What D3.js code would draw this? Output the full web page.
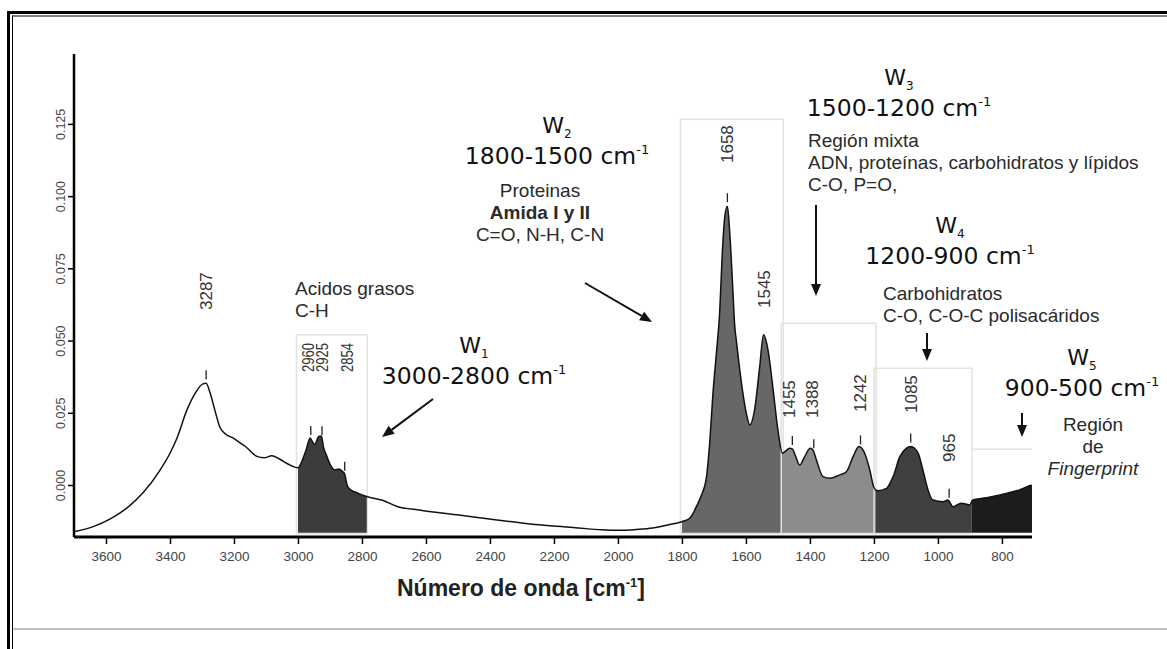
<!DOCTYPE html>
<html lang="es">
<head>
<meta charset="utf-8">
<title>Espectro FTIR</title>
<style>
  body { margin: 0; background: #fff; }
  svg { font-family: 'Liberation Sans', Arial, sans-serif; }
</style>
<script src="https://cdn.jsdelivr.net/npm/d3@7"></script>
</head>
<body>
<script>
var W = 1167, H = 649;

// spectrum (wavenumber cm-1, absorbance)
var wavenumber = [3700, 3640, 3588, 3535, 3485, 3432, 3400, 3378, 3347, 3320, 3297, 3287, 3275, 3260, 3244, 3225, 3203, 3180, 3166, 3130, 3106, 3082, 3058, 3030,
    3000, 2985, 2975, 2962, 2955, 2948, 2935, 2927, 2920, 2910, 2900, 2885, 2872, 2862, 2855, 2845, 2830, 2813, 2785,
    2736, 2688, 2617, 2497, 2378, 2259, 2140, 2100, 2050, 2000, 1950, 1900, 1848,
    1800, 1776, 1765, 1755, 1739, 1723, 1713, 1703, 1692, 1682, 1674, 1666, 1658, 1651, 1642, 1635, 1630, 1614, 1599, 1588, 1573, 1557, 1545, 1531, 1515, 1500,
    1486, 1479, 1463, 1455, 1445, 1432, 1418, 1399, 1390, 1380, 1359, 1338, 1307, 1286, 1265, 1247, 1229, 1213, 1201,
    1195, 1187, 1161, 1140, 1119, 1099, 1085, 1062, 1047, 1031, 1016, 984, 969, 953, 927, 901,
    891, 860, 828, 786, 745, 708];
var absorbance = [-0.0162, -0.0144, -0.0118, -0.0080, -0.0028, 0.0050, 0.0110, 0.0163, 0.0260, 0.0320, 0.0350, 0.0352, 0.0320, 0.0260, 0.0200, 0.0175, 0.0163, 0.0145, 0.0135, 0.0100, 0.0094, 0.0101, 0.0090, 0.0072,
    0.0060, 0.0090, 0.0120, 0.0163, 0.0150, 0.0140, 0.0168, 0.0170, 0.0130, 0.0100, 0.0072, 0.0052, 0.0055, 0.0048, 0.0040, -0.0005, -0.0020, -0.0028, -0.0040,
    -0.0053, -0.0075, -0.0087, -0.0104, -0.0121, -0.0137, -0.0147, -0.0151, -0.0155, -0.0157, -0.0155, -0.0150, -0.0139,
    -0.0127, -0.0115, -0.0098, -0.0075, -0.0035, 0.0030, 0.0150, 0.0318, 0.0460, 0.0600, 0.0800, 0.0930, 0.0965, 0.0880, 0.0700, 0.0550, 0.0500, 0.0353, 0.0249, 0.0208, 0.0260, 0.0410, 0.0520, 0.0467, 0.0329, 0.0190,
    0.0110, 0.0115, 0.0127, 0.0125, 0.0100, 0.0069, 0.0095, 0.0127, 0.0120, 0.0087, 0.0029, 0.0023, 0.0035, 0.0046, 0.0098, 0.0133, 0.0110, 0.0052, -0.0006,
    -0.0017, -0.0020, -0.0012, 0.0029, 0.0098, 0.0127, 0.0133, 0.0110, 0.0052, -0.0017, -0.0052, -0.0058, -0.0052, -0.0075, -0.0063, -0.0069,
    -0.0052, -0.0046, -0.0040, -0.0029, -0.0017, 0.0000];

var regionNames = ["1", "2", "3", "4", "5"];
var regionStart = [3000, 1800, 1485, 1195, 895];
var regionEnd = [2785, 1485, 1195, 895, 706];
var regionTop = [0.052, 0.1266, 0.056, 0.0404, 0.0124];
var regionRange = ["3000-2800", "1800-1500", "1500-1200", "1200-900", "900-500"];

var peaks = [3287, 2960, 2925, 2854, 1658, 1545, 1455, 1388, 1242, 1085, 965];

var xTicks = [3600, 3400, 3200, 3000, 2800, 2600, 2400, 2200, 2000, 1800, 1600, 1400, 1200, 1000, 800];
var yTicks = [0, 0.025, 0.05, 0.075, 0.1, 0.125];

var data = wavenumber.map(function (v, i) { return [v, absorbance[i]]; });

var svg = d3.select("body").append("svg")
    .attr("width", W)
    .attr("height", H);

var x = d3.scaleLinear().domain([3700, 706]).range([74, 1032]);
var y = d3.scaleLinear().domain([-0.018, 0.1492]).range([537, 54]);

function interp(v) {
    for (var i = 0; i < data.length - 1; i++) {
        if (v <= data[i][0] && v >= data[i + 1][0]) {
            var t = (data[i][0] - v) / (data[i][0] - data[i + 1][0]);
            return data[i][1] + t * (data[i + 1][1] - data[i][1]);
        }
    }
    return data[data.length - 1][1];
}

/* FRAME */
svg.append("line").attr("x1", 7).attr("x2", W).attr("y1", 12.5).attr("y2", 12.5)
    .attr("stroke", "#000").attr("stroke-width", 3);
svg.append("line").attr("x1", 12).attr("x2", W).attr("y1", 16).attr("y2", 16)
    .attr("stroke", "#000").attr("stroke-width", 1);
svg.append("line").attr("x1", 8.5).attr("x2", 8.5).attr("y1", 11).attr("y2", H)
    .attr("stroke", "#000").attr("stroke-width", 3);
svg.append("line").attr("x1", 12.5).attr("x2", 12.5).attr("y1", 15.5).attr("y2", H)
    .attr("stroke", "#000").attr("stroke-width", 1);
svg.append("line").attr("x1", 13).attr("x2", W).attr("y1", 629).attr("y2", 629)
    .attr("stroke", "#aaa").attr("stroke-width", 1.5);

/* REGION FILLS AND BOXES */
var fills = ["#3c3c3c", "#676767", "#8c8c8c", "#404040", "#1c1c1c"];
var bottom = y(-0.0165);

var area = d3.area()
    .x(function (d) { return x(d[0]); })
    .y0(bottom)
    .y1(function (d) { return y(d[1]); })
    .curve(d3.curveMonotoneX);

regionNames.forEach(function (n, i) {
    var s = regionStart[i], e = regionEnd[i];
    var pts = [[s, interp(s)]];
    data.forEach(function (d) { if (d[0] < s && d[0] > e) pts.push(d); });
    pts.push([e, interp(e)]);

    svg.append("rect")
        .attr("x", x(s) - 1.5)
        .attr("y", y(regionTop[i]))
        .attr("width", x(e) - x(s) + 2)
        .attr("height", bottom - y(regionTop[i]) + 1)
        .attr("fill", "none")
        .attr("stroke", i == 4 ? "none" : "#e2e2e2")
        .attr("stroke-width", 1.5);

    svg.append("path")
        .attr("d", area(pts))
        .attr("fill", fills[i]);
});
// W5 only shows its top edge
svg.append("line")
    .attr("x1", x(regionStart[4])).attr("x2", x(regionEnd[4]))
    .attr("y1", y(regionTop[4])).attr("y2", y(regionTop[4]))
    .attr("stroke", "#e2e2e2").attr("stroke-width", 1.5);

/* SPECTRUM LINE */
var line = d3.line()
    .x(function (d) { return x(d[0]); })
    .y(function (d) { return y(d[1]); })
    .curve(d3.curveMonotoneX);

svg.append("path")
    .attr("d", line(data))
    .attr("fill", "none")
    .attr("stroke", "#111")
    .attr("stroke-width", 1.5);

/* AXES */
var gx = svg.append("g").attr("transform", "translate(0,537)")
    .call(d3.axisBottom(x).tickValues(xTicks).tickSize(7).tickSizeOuter(0).tickFormat(d3.format("d")));
gx.select(".domain").attr("stroke-width", 3).attr("d", "M74,0H1032");
gx.selectAll(".tick line").attr("stroke-width", 1.5);
gx.selectAll(".tick text").attr("y", 14).attr("dy", "0.71em")
    .attr("font-size", 13.5).attr("fill", "#444")
    .attr("font-family", "'Liberation Sans', Arial, sans-serif");

var gy = svg.append("g").attr("transform", "translate(74,0)")
    .call(d3.axisLeft(y).tickValues(yTicks).tickSize(6).tickSizeOuter(0).tickFormat(d3.format(".3f")));
gy.select(".domain").attr("stroke-width", 2.5).attr("d", "M0,537V54");
gy.selectAll(".tick line").attr("stroke-width", 1.5);
gy.selectAll(".tick text")
    .attr("x", null).attr("dy", null)
    .attr("text-anchor", "middle")
    .attr("transform", "translate(-9,0) rotate(-90)")
    .attr("font-size", 12.5).attr("fill", "#444")
    .attr("font-family", "'Liberation Sans', Arial, sans-serif");

/* PEAK MARKS */
var labelBottom = { 3287: 310, 2960: 372, 2925: 372, 2854: 372, 1658: 163, 1545: 308, 1455: 418, 1388: 418, 1242: 412, 1085: 413, 965: 462 };
var labelX = { 2960: 308, 2925: 322, 2854: 347, 1455: 789, 1388: 812 };
var packed = [2960, 2925, 2854];

peaks.forEach(function (p) {
    var px = x(p), py = y(interp(p));
    if (p != 1545) {
        svg.append("line")
            .attr("x1", px).attr("x2", px)
            .attr("y1", py - 13).attr("y2", py - 4)
            .attr("stroke", "#222").attr("stroke-width", 1.3);
    }

    var small = packed.indexOf(p) >= 0;
    var lx = labelX[p] !== undefined ? labelX[p] : px;
    var t = svg.append("text")
        .text(p)
        .attr("transform", "translate(" + (lx + (small ? 5.5 : 6)) + "," + labelBottom[p] + ") rotate(-90)")
        .attr("font-size", small ? 16 : 17)
        .attr("fill", "#333");
    if (small) t.attr("textLength", 29).attr("lengthAdjust", "spacingAndGlyphs");
});

/* REGION HEADINGS */
var headX = [474, 557, 899, 950, 1082];
var headY = [353, 133, 85, 233, 365];

regionNames.forEach(function (n, i) {
    var w = svg.append("text")
        .attr("x", headX[i]).attr("y", headY[i])
        .attr("text-anchor", "middle")
        .attr("font-family", "'DejaVu Sans', sans-serif")
        .attr("font-size", 22)
        .attr("fill", "#111");
    w.append("tspan").text("W");
    w.append("tspan").text(n).attr("font-size", 12).attr("dy", 5);

    var r = svg.append("text")
        .attr("x", headX[i]).attr("y", headY[i] + 31)
        .attr("text-anchor", "middle")
        .attr("font-family", "'DejaVu Sans', sans-serif")
        .attr("font-size", 23.5)
        .attr("fill", "#111");
    r.append("tspan").text(regionRange[i] + " cm");
    r.append("tspan").text("-1").attr("font-size", 13).attr("dy", -10);
});

/* DESCRIPTIONS */
function note(lines, tx, ty, anchor) {
    lines.forEach(function (l, k) {
        svg.append("text")
            .text(l.t)
            .attr("x", tx).attr("y", ty + k * 21.8)
            .attr("text-anchor", anchor)
            .attr("font-size", 19)
            .attr("font-weight", l.b ? "bold" : "normal")
            .attr("font-style", l.i ? "italic" : "normal")
            .attr("fill", "#2a2a2a");
    });
}
note([{ t: "Acidos grasos" }, { t: "C-H" }], 295, 295, "start");
note([{ t: "Proteinas" }, { t: "Amida I y II", b: true }, { t: "C=O, N-H, C-N" }], 540, 197, "middle");
note([{ t: "Región mixta" }, { t: "ADN, proteínas, carbohidratos y lípidos" }, { t: "C-O, P=O," }], 808, 147, "start");
note([{ t: "Carbohidratos" }, { t: "C-O, C-O-C polisacáridos" }], 883, 300, "start");
note([{ t: "Región" }, { t: "de" }, { t: "Fingerprint", i: true }], 1093, 431, "middle");

/* ARROWS */
function arrow(x1, y1, x2, y2) {
    var a = Math.atan2(y2 - y1, x2 - x1), L = 12, Wd = 5;
    var bx = x2 - L * Math.cos(a), by = y2 - L * Math.sin(a);
    svg.append("line")
        .attr("x1", x1).attr("y1", y1).attr("x2", bx).attr("y2", by)
        .attr("stroke", "#111").attr("stroke-width", 2);
    svg.append("path")
        .attr("d", "M" + x2 + "," + y2 +
            "L" + (bx + Wd * Math.sin(a)) + "," + (by - Wd * Math.cos(a)) +
            "L" + (bx - Wd * Math.sin(a)) + "," + (by + Wd * Math.cos(a)) + "Z")
        .attr("fill", "#111");
}
arrow(433, 399, 382, 437);
arrow(585, 283, 652, 322);
arrow(816, 205, 816, 296);
arrow(927, 333, 927, 361);
arrow(1022, 413, 1022, 437);

/* AXIS TITLE */
var title = svg.append("text")
    .attr("x", 397).attr("y", 596)
    .attr("font-size", 23)
    .attr("font-weight", "bold")
    .attr("fill", "#222");
title.append("tspan").text("Número de onda [cm");
title.append("tspan").text("-1").attr("font-size", 13).attr("dy", -9);
title.append("tspan").text("]").attr("dy", 9);
</script>
</body>
</html>
